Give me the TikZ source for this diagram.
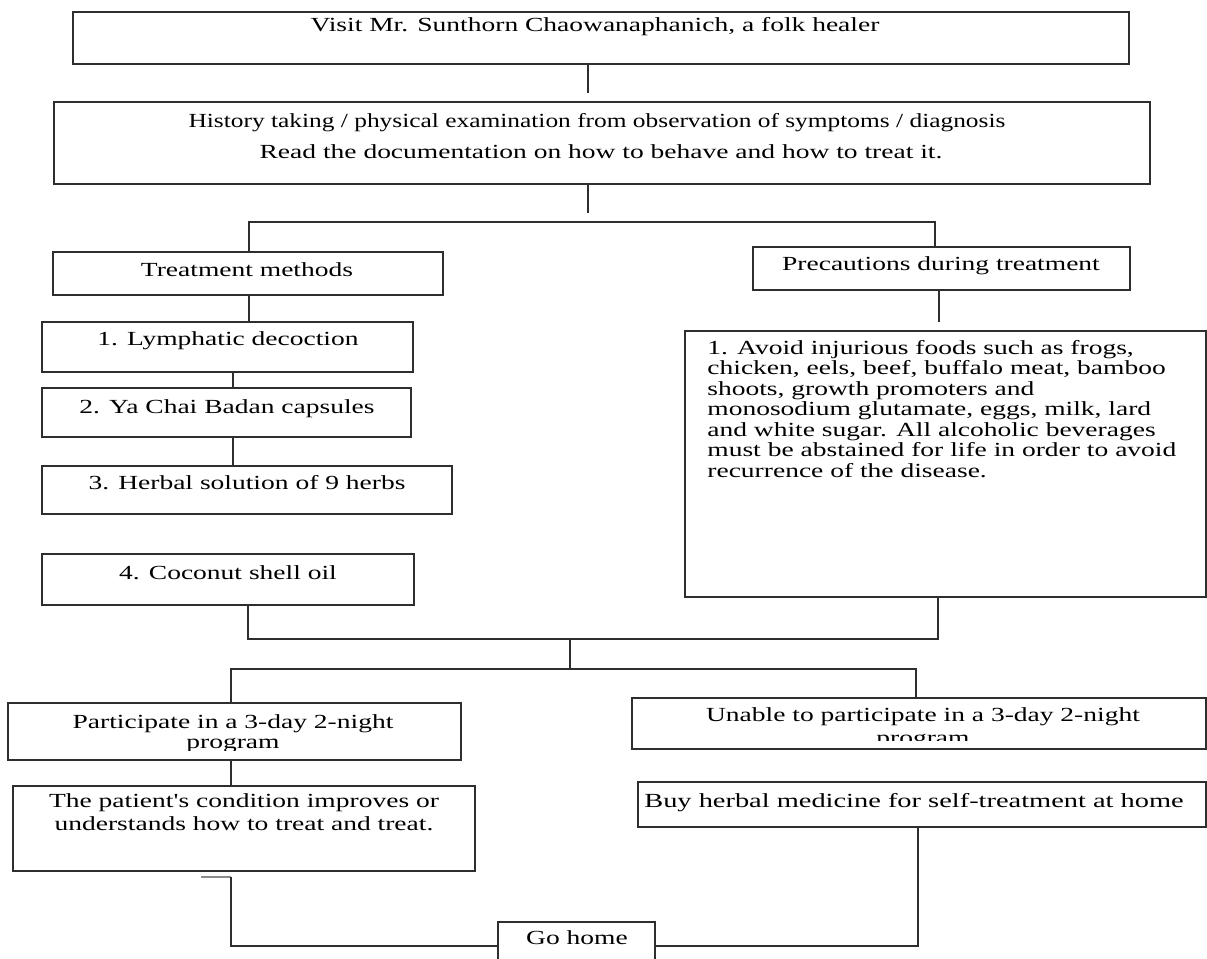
\documentclass[tikz,border=0pt]{standalone}
\usepackage{fontspec}
\setmainfont{Liberation Serif}
\newfontfamily\widefont{Liberation Serif}[FakeStretch=1.375]
\newfontfamily\narrowfont{Liberation Serif}[FakeStretch=1.27]
\newfontfamily\buyfont{Liberation Serif}[FakeStretch=1.42]
\usetikzlibrary{fit}
\begin{document}
\begin{tikzpicture}[x=0.5pt,y=-0.5pt,
  box/.style={draw=black!82, line width=0.85pt, inner sep=0pt, fit={#1}},
  link/.style={draw=black!82, line width=0.85pt},
  tx/.style={inner sep=0pt, anchor=base, font=\widefont\fontsize{10}{10.25}\selectfont},
  txn/.style={inner sep=0pt, anchor=base, font=\narrowfont\fontsize{10}{10.25}\selectfont},
  txb/.style={inner sep=0pt, anchor=base, font=\buyfont\fontsize{10}{10.25}\selectfont},
  txl/.style={inner sep=0pt, anchor=base west, font=\widefont\fontsize{10}{10.25}\selectfont}]
\useasboundingbox (0,0) rectangle (1207,959);
\clip (0,0) rectangle (1207,959);
\fill[white] (0,0) rectangle (1207,959);

% boxes
\node[box={(73,12) (1129,64)}] (visit) {};
\node[box={(54,102) (1150,184)}] (hist) {};
\node[box={(53,252) (443,295)}] (treat) {};
\node[box={(753,247) (1130,290)}] (prec) {};
\node[box={(42,322) (413,372)}] (lymph) {};
\node[box={(42,388) (411,437)}] (ya) {};
\node[box={(42,466) (452,514)}] (herb) {};
\node[box={(42,554) (414,605)}] (coco) {};
\node[box={(685,331) (1206,597)}] (avoid) {};
\node[box={(8,703) (461,760)}] (part) {};
\node[box={(632,698) (1206,749)}] (unable) {};
\node[box={(13,786) (475,871)}] (patient) {};
\node[box={(638,782) (1206,827)}] (buy) {};
\node[box={(498,922) (655,990)}] (gohome) {};

% texts
\node[tx] (tvisit) at (595,31) {Visit Mr. Sunthorn Chaowanaphanich, a folk healer};
\node[txn] (thist1) at (597,127) {History taking / physical examination from observation of symptoms / diagnosis};
\node[tx] (thist2) at (601,158) {Read the documentation on how to behave and how to treat it.};
\node[tx] (ttreat) at (247,276) {Treatment methods};
\node[tx] (tprec) at (941,270) {Precautions during treatment};
\node[tx] (tlymph) at (228,345) {1. Lymphatic decoction};
\node[tx] (tya) at (227,413) {2. Ya Chai Badan capsules};
\node[tx] (therb) at (247,489) {3. Herbal solution of 9 herbs};
\node[tx] (tcoco) at (228,579) {4. Coconut shell oil};
\node[txl] (ta1) at (707,354) {1. Avoid injurious foods such as frogs,};
\node[txl] (ta2) at (707,374.5) {chicken, eels, beef, buffalo meat, bamboo};
\node[txl] (ta3) at (707,395) {shoots, growth promoters and};
\node[txl] (ta4) at (707,415.5) {monosodium glutamate, eggs, milk, lard};
\node[txl] (ta5) at (707,436) {and white sugar. All alcoholic beverages};
\node[txl] (ta6) at (707,456.5) {must be abstained for life in order to avoid};
\node[txl] (ta7) at (707,477) {recurrence of the disease.};
\node[tx] (tpart1) at (233,728) {Participate in a 3-day 2-night};
\begin{scope}
  \clip (8,703) rectangle (461,750);
  \node[tx] (tpart2) at (233,748) {program};
\end{scope}
\node[tx] (tun1) at (923,721) {Unable to participate in a 3-day 2-night};
\begin{scope}
  \clip (632,698) rectangle (1206,740);
  \node[tx] (tun2) at (923,744) {program};
\end{scope}
\node[tx] (tpat1) at (244,807) {The patient's condition improves or};
\node[tx] (tpat2) at (244,830) {understands how to treat and treat.};
\node[txb] (tbuy) at (914,807) {Buy herbal medicine for self-treatment at home};
\node[tx] (tgo) at (577,944) {Go home};

% connectors
\coordinate (c1) at (588,93);
\draw[link] (c1 |- visit.south) -- (c1);
\coordinate (c2) at (588,213);
\draw[link] (c2 |- hist.south) -- (c2);
\coordinate (c3) at (249,222);
\coordinate (c4) at (935,222);
\draw[link] (c3 |- treat.north) -- (c3) -- (c4) -- (c4 |- prec.north);
\draw[link] (249,0 |- treat.south) -- (249,0 |- lymph.north);
\draw[link] (233,0 |- lymph.south) -- (233,0 |- ya.north);
\draw[link] (233,0 |- ya.south) -- (233,0 |- herb.north);
\coordinate (c5) at (939,322);
\draw[link] (c5 |- prec.south) -- (c5);
\coordinate (c6) at (248,639);
\coordinate (c7) at (938,639);
\draw[link] (c6 |- coco.south) -- (c6) -- (c7) -- (c7 |- avoid.south);
\coordinate (c8) at (570,639);
\coordinate (c9) at (570,669);
\draw[link] (c8) -- (c9);
\coordinate (c10) at (231,669);
\coordinate (c11) at (916,669);
\draw[link] (c10 |- part.north) -- (c10) -- (c11) -- (c11 |- unable.north);
\draw[link] (231,0 |- part.south) -- (231,0 |- patient.north);
\coordinate (c12) at (201,877);
\coordinate (c13) at (231,946);
\draw[link, draw=black!45] (c12) -- (c12 -| c13);
\draw[link] (c12 -| c13) -- (c13) -- (c13 -| gohome.west);
\coordinate (c14) at (918,946);
\draw[link] (c14 |- buy.south) -- (c14) -- (gohome.east |- c14);
\end{tikzpicture}
\end{document}
